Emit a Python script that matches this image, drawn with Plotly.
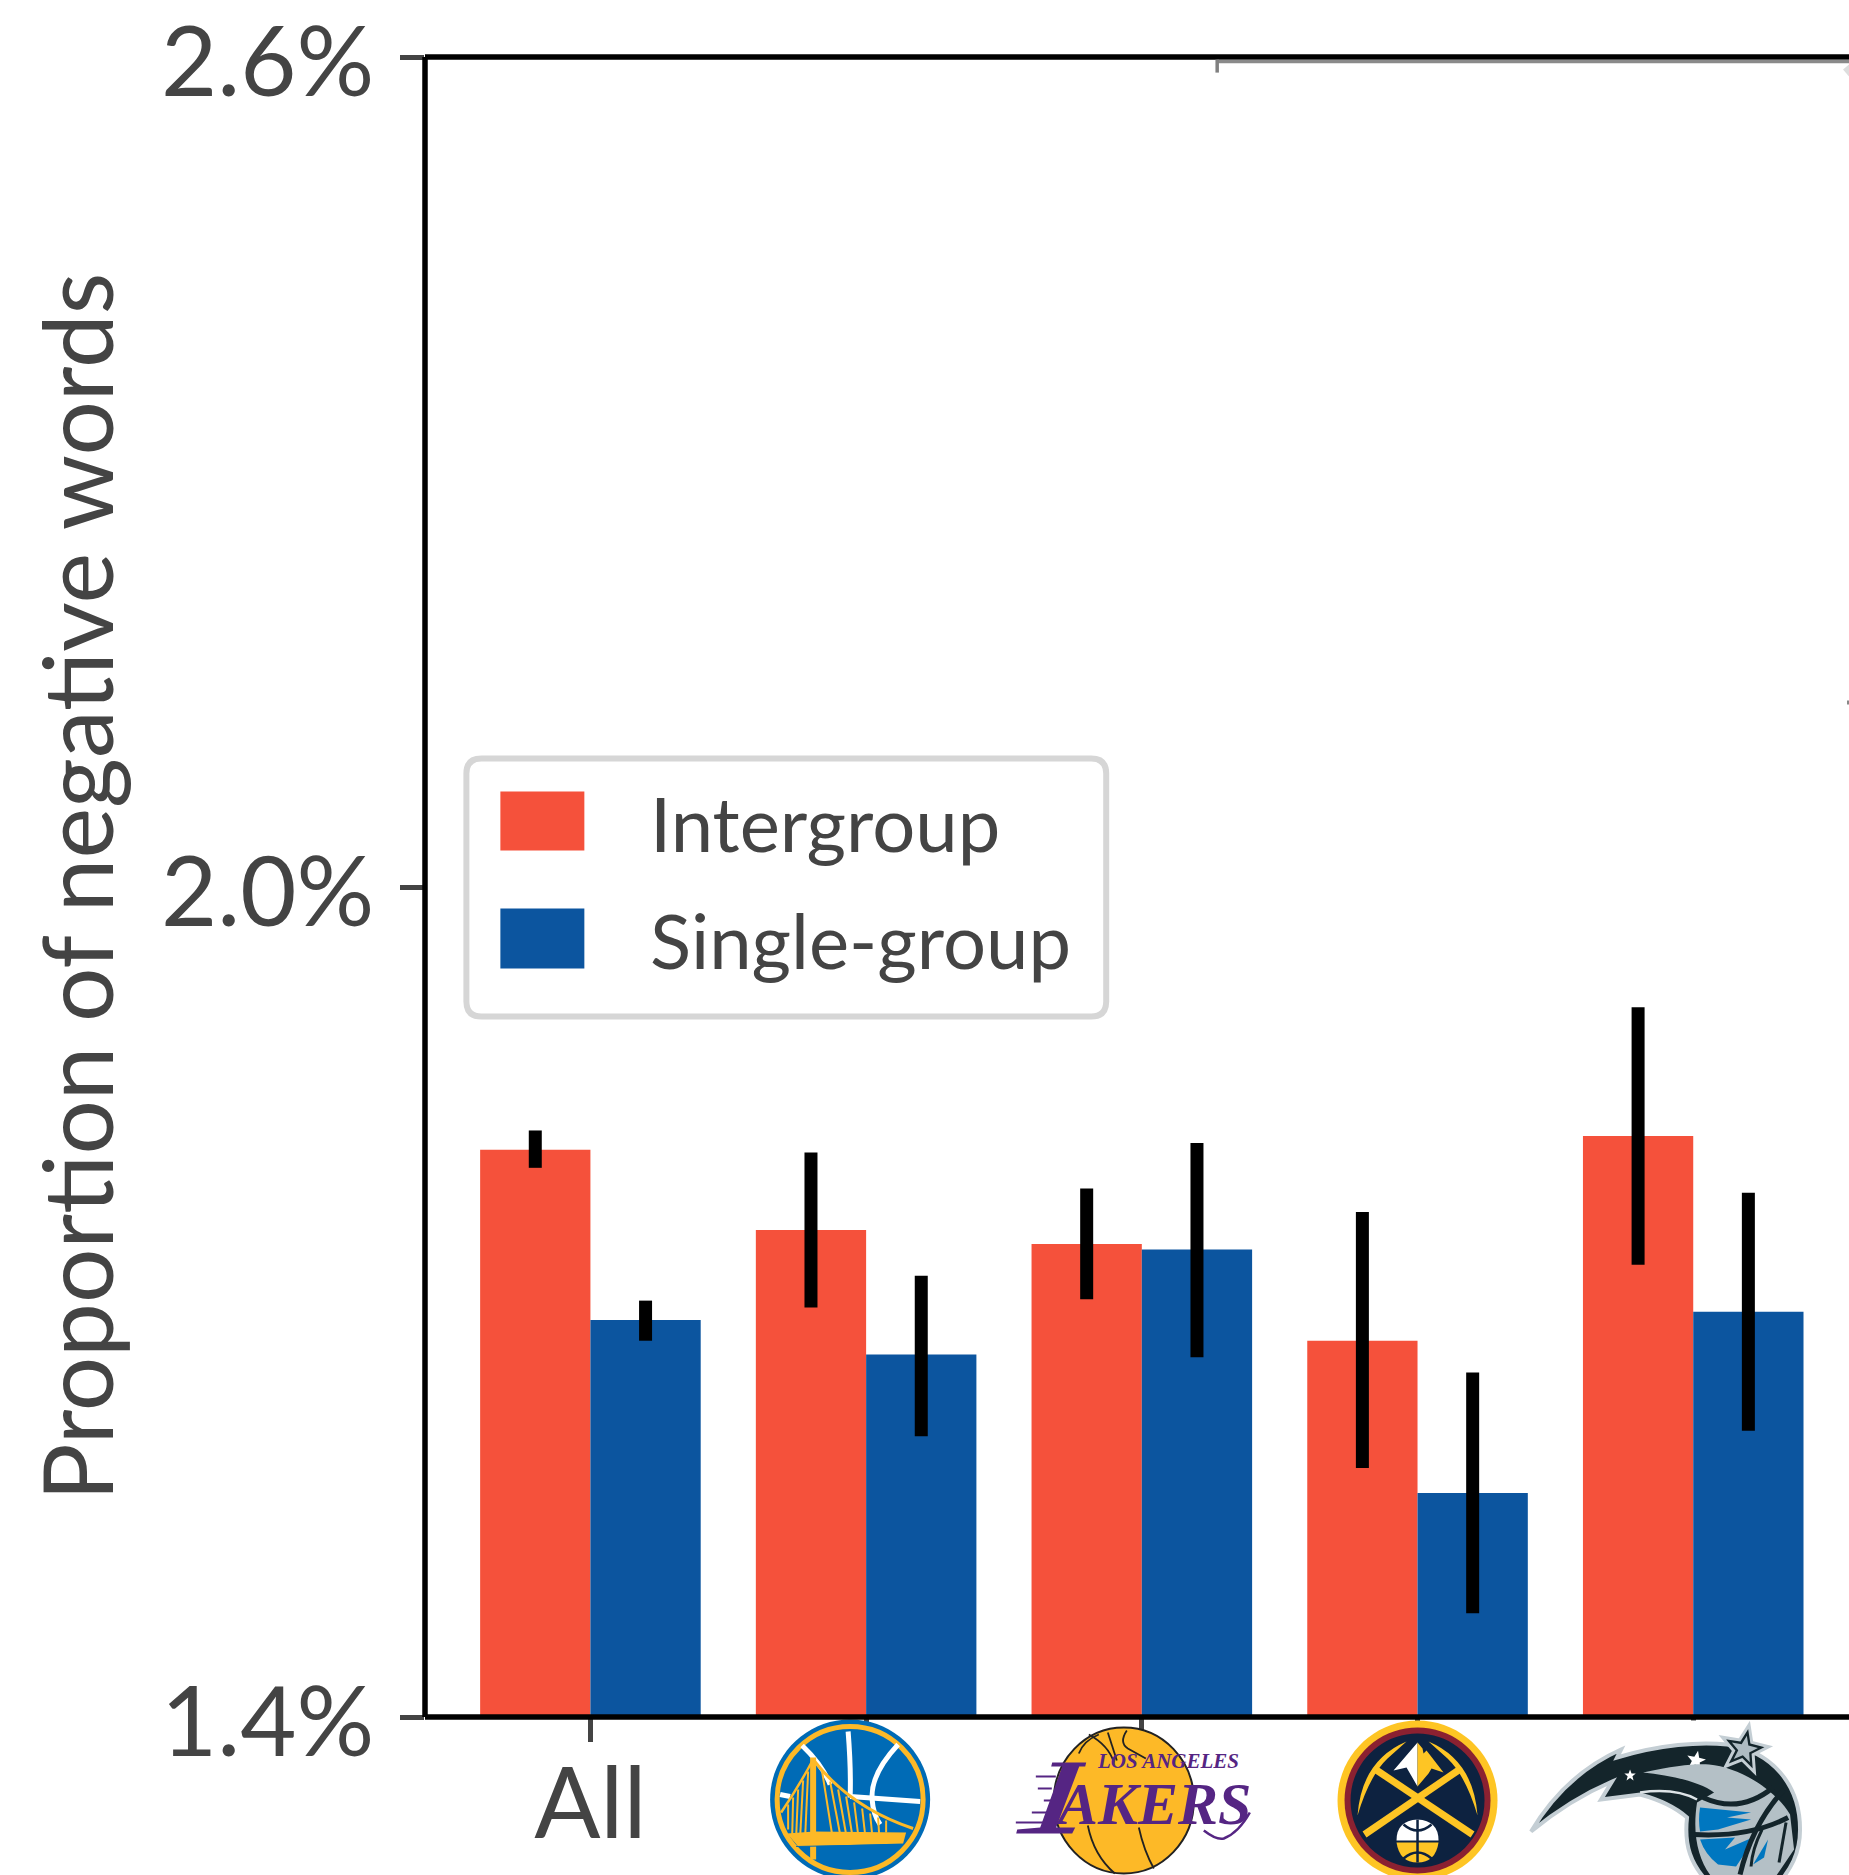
import math
import plotly.graph_objects as go

# ---------- data ----------
categories = ["All", "Warriors", "Lakers", "Nuggets", "Magic"]
tick_labels = ["All", "", "", "", ""]
intergroup = [1.810, 1.752, 1.742, 1.672, 1.820]
intergroup_low = [1.797, 1.696, 1.702, 1.580, 1.727]
intergroup_high = [1.824, 1.808, 1.782, 1.765, 1.913]
singlegroup = [1.687, 1.662, 1.738, 1.562, 1.693]
singlegroup_low = [1.672, 1.603, 1.660, 1.475, 1.607]
singlegroup_high = [1.701, 1.719, 1.815, 1.649, 1.779]
y_ticks = [1.4, 2.0, 2.6]
y_tick_labels = ["1.4%", "2.0%", "2.6%"]
series_names = ["Intergroup", "Single-group"]
y_title = "Proportion of negative words"

# ---------- style ----------
W, H = 1849, 1875
L, T, B = 424.6, 57.4, 1717.5
FONT = "Lato"
TXT = "#444444"
RED, BLUE = "#F5513B", "#0C559F"
RANGE_LEN = 5.165


def py(Y):
    return (B - Y) / (B - T)


def px(X):
    return (X - L) / (W - L)


def tick_x(idx):
    return L + (idx + 0.6) * (W - L) / RANGE_LEN


def err(vals, low, high):
    return dict(type="data", symmetric=False,
                array=[h - v for h, v in zip(high, vals)],
                arrayminus=[v - l for v, l in zip(vals, low)],
                color="black", thickness=13, width=0)


fig = go.Figure()
fig.add_bar(x=list(range(5)), y=intergroup, name=series_names[0], marker=dict(color=RED, line_width=0),
            error_y=err(intergroup, intergroup_low, intergroup_high), hovertext=categories)
fig.add_bar(x=list(range(5)), y=singlegroup, name=series_names[1], marker=dict(color=BLUE, line_width=0),
            error_y=err(singlegroup, singlegroup_low, singlegroup_high), hovertext=categories)

shapes, annos = [], []


def flip(path, dx, dy):
    out, i = [], 0
    for tok in path.replace(",", " ").split():
        if tok.isalpha():
            out.append(tok)
            if tok.upper() != "Z":
                i = 0
        else:
            v = float(tok)
            out.append(f"{v + dx:.2f}" if i % 2 == 0 else f"{-(v + dy):.2f}")
            i += 1
    return " ".join(out)


def ell(cx, cy, rx, ry):
    k = 0.5523
    return (f"M {cx-rx} {cy} C {cx-rx} {cy-k*ry} {cx-k*rx} {cy-ry} {cx} {cy-ry} "
            f"C {cx+k*rx} {cy-ry} {cx+rx} {cy-k*ry} {cx+rx} {cy} "
            f"C {cx+rx} {cy+k*ry} {cx+k*rx} {cy+ry} {cx} {cy+ry} "
            f"C {cx-k*rx} {cy+ry} {cx-rx} {cy+k*ry} {cx-rx} {cy} Z")


def star(cx, cy, r, rot=0.0):
    pts = []
    for i in range(10):
        a = rot + math.pi * i / 5 - math.pi / 2
        rr = r if i % 2 == 0 else r * 0.42
        pts.append((cx + rr * math.cos(a), cy + rr * math.sin(a)))
    return "M " + " L ".join(f"{x:.1f} {y:.1f}" for x, y in pts) + " Z"


def logo(idx, cy, dx, path, fill=None, line=None, lw=0):
    shapes.append(dict(type="path", xref="paper", yref="paper", layer="above",
                       xsizemode="pixel", ysizemode="pixel",
                       xanchor=px(tick_x(idx)), yanchor=py(cy),
                       path=flip(path, dx, 0),
                       fillcolor=fill if fill else "rgba(0,0,0,0)",
                       line=dict(color=line if line else "rgba(0,0,0,0)", width=lw)))


def abs_path(s, ox, oy):
    out, i = [], 0
    for tok in s.replace(",", " ").split():
        if tok.isalpha():
            out.append(tok)
            i = 0
        else:
            out.append(str(float(tok) - (ox if i % 2 == 0 else oy)))
            i += 1
    return " ".join(out)


# ---------- Warriors ----------
cyw, dxw = 1800, -16
GS_B, GS_G = "#006BB6", "#FDB927"
logo(1, cyw, dxw, ell(0, 0, 80, 80), fill=GS_B)
logo(1, cyw, dxw, ell(0, 0, 73, 73), fill=GS_B, line=GS_G, lw=5)
for p in ["M -2 -68 Q 1 -30 0 -2", "M 0 -3 L 70 2", "M 48 -55 Q 20 -25 22 0 Q 23 15 30 25",
          "M -48 -54 Q -28 -35 -20 -15", "M -70 -5 L -60 -3"]:
    logo(1, cyw, dxw, p, line="white", lw=5)
logo(1, cyw, dxw, "M -37 -40 Q -52 -12 -69 13", line=GS_G, lw=2.5)
logo(1, cyw, dxw, "M -37 -40 Q 0 8 63 29", line=GS_G, lw=3)
for p in [(-28, -28, -18, 35), (-20, -18, -10, 35), (-12, -10, -4, 35), (-4, -3, 2, 35), (4, 3, 8, 35),
          (12, 9, 15, 35), (20, 14, 22, 35), (28, 18, 29, 35), (36, 21, 36, 33),
          (-42, -28, -45, 38), (-47, -19, -50, 38), (-52, -10, -54, 38), (-57, -2, -58, 38), (-62, 5, -62, 30)]:
    logo(1, cyw, dxw, f"M {p[0]} {p[1]} L {p[2]} {p[3]}", line=GS_G, lw=2)
logo(1, cyw, dxw, "M -63 34 L -36 32 L 56 33 L 53 44 L -52 47 Z", fill=GS_G)
logo(1, cyw, dxw, "M -40 -42 L -34 -42 L -34 60 L -40 60 Z", fill=GS_G)
logo(1, cyw, dxw, "M -54 47 L 50 45", line=GS_B, lw=1)

# ---------- Lakers ----------
cyl, dxl = 1801, -18
LA_P, LA_G = "#552583", "#FDB927"
logo(2, cyl, dxl, ell(0, 0, 70, 73), fill=LA_G, line="#222222", lw=2)
for p in ["M -16 -68 L -7 -40", "M -45 -47 Q -40 -60 -25 -66", "M 3 -70 Q -5 -58 4 -52 L 22 -42",
          "M -36 25 Q -30 55 -9 73", "M 15 27 Q 20 50 30 68", "M -35 -66 Q -15 -55 -10 -38"]:
    logo(2, cyl, dxl, p, line="#222222", lw=1.8)
for (x0, x1, y) in [(-88, -68, -24), (-86, -72, -12), (-80, -70, 0), (-92, -74, 12), (-108, -80, 22), (-104, -78, 31)]:
    logo(2, cyl, dxl, f"M {x0} {y} L {x1} {y}", line=LA_P, lw=2)
logo(2, cyl, dxl, "M 80 30 Q 93 40 100 38 Q 115 32 126 12", line=LA_P, lw=2.5)
# the tall italic L of the wordmark
logo(2, 1800, 0, abs_path("M 1052 1763 L 1086 1763 L 1085 1767 L 1079 1767 L 1056 1828 L 1075 1828 L 1072 1834 "
                          "L 1016 1834 L 1017 1830 L 1040 1828 L 1062 1767 L 1051 1767 Z", tick_x(2), 1800), fill=LA_P)


def logo_text(idx, X, Y, text, size):
    annos.append(dict(x=idx, xref="x", y=py(Y), yref="paper", xshift=X - tick_x(idx),
                      text=f"<b><i>{text}</i></b>", showarrow=False, xanchor="center", yanchor="middle",
                      font=dict(family="Liberation Serif", size=size, color=LA_P)))


logo_text(2, 1168, 1762, "LOS ANGELES", 21)
logo_text(2, 1152, 1805, "AKERS", 60)

# ---------- Nuggets ----------
cyn, dxn = 1801, 0
NG_G, NG_M, NG_N = "#FEC524", "#8B2131", "#0D2240"
logo(3, cyn, dxn, ell(0, 0, 80, 80), fill=NG_G)
logo(3, cyn, dxn, ell(0, 0, 73, 73), fill=NG_M)
logo(3, cyn, dxn, ell(0, 0, 67, 67), fill=NG_N)
logo(3, cyn, dxn, "M 0 -58 L -24 -30 L -11 -33 L 0 -14 Z", fill="white")
logo(3, cyn, dxn, "M 0 -58 L 5 -52 L 6 -47 L 9 -50 L 26 -28 L 14 -32 L 11 -27 L 0 -14 Z", fill=NG_G)
logo(3, cyn, dxn, "M -53 34 L 42 -31", line=NG_G, lw=7)
logo(3, cyn, dxn, "M -42 -31 L 55 34", line=NG_G, lw=7)
logo(3, cyn, dxn, "M -11 -59 Q -56 -40 -60 15 Q -48 -25 -30 -42 Z", fill=NG_G)
logo(3, cyn, dxn, "M 11 -59 Q 56 -40 60 15 Q 48 -25 30 -42 Z", fill=NG_G)
logo(3, cyn, dxn, "M -21 40 Q -21 20 0 19 Q 21 20 21 40 Z", fill="white")
logo(3, cyn, dxn, "M -21 42 L 21 42 Q 18 62 0 62 Q -18 62 -21 42 Z", fill=NG_G)
logo(3, cyn, dxn, "M 0 19 L 0 62", line=NG_N, lw=2.5)
logo(3, cyn, dxn, "M -14 24 Q 0 36 14 24", line=NG_N, lw=2.5)
logo(3, cyn, dxn, "M -14 58 Q 0 46 14 58", line=NG_N, lw=2.5)

# ---------- Magic ----------
ox, oy = tick_x(4), 1800
MG_K, MG_S, MG_L = "#14252B", "#C4CED4", "#0077C0"


def mg(s, **kw):
    logo(4, oy, 0, abs_path(s, ox, oy), **kw)


# white backing of the logo picture hides the axis tick
mg(f"M {ox-6} 1721 L {ox+6} 1721 L {ox+6} 1745 L {ox-6} 1745 Z", fill="white")
tail = ("M 1531 1832 Q 1565 1775 1621 1750 L 1617 1758 C 1660 1745 1700 1742 1727 1745 "
        "C 1772 1752 1800 1785 1800 1830 C 1800 1855 1790 1870 1778 1885 L 1710 1885 "
        "C 1690 1865 1684 1845 1687 1818 Q 1670 1803 1640 1795 L 1601 1800 L 1612 1782 Q 1570 1800 1531 1832 Z")
mg(tail, fill=MG_K, line=MG_S, lw=4)
mg(star(1744, 1750, 25, 0.2), fill=MG_K, line=MG_S, lw=3)
mg(star(1744, 1750, 14, 0.2), fill="#AEBBC2")
mg(star(1696, 1761, 10, 0.2), fill="white")
mg(star(1630, 1776, 6, 0.0), fill="white")
mg("M 1643 1773 C 1675 1766 1695 1764 1709 1765 C 1740 1768 1775 1790 1790 1815 L 1794 1850 L 1775 1878 "
   "L 1712 1878 C 1698 1860 1692 1835 1697 1803 L 1714 1793 C 1700 1782 1670 1776 1643 1773 Z", fill="#B4C0C6")
mg("M 1700 1808 L 1751 1813 L 1727 1818 L 1751 1820 L 1718 1830 L 1700 1832 Q 1698 1820 1700 1808 Z", fill=MG_L)
mg("M 1700 1840 L 1735 1838 L 1725 1850 L 1755 1837 L 1744 1855 L 1736 1867 L 1718 1865 Q 1705 1855 1700 1840 Z",
   fill=MG_L)
mg("M 1753 1865 L 1768 1840 L 1764 1858 Z", fill=MG_L)
mg("M 1703 1798 Q 1740 1815 1773 1788", line=MG_K, lw=5)
mg("M 1694 1835 Q 1750 1838 1788 1818", line=MG_K, lw=5)
mg("M 1784 1790 Q 1752 1825 1740 1875", line=MG_K, lw=5)
mg("M 1786 1823 L 1779 1863", line=MG_K, lw=3)
mg("M 1762 1830 Q 1752 1850 1751 1867", line=MG_K, lw=3)
mg("M 1640 1793 Q 1675 1788 1697 1800", line="#DDE3E6", lw=2.5)

# ---------- legend box ----------
lx0, lx1, ly0, ly1, rr = 466, 1106, 759, 1017, 15
shapes.append(dict(type="path", xref="paper", yref="paper", layer="above", line=dict(color="#D6D6D6", width=6),
                   fillcolor="white",
                   path=(f"M {px(lx0+rr)} {py(ly0)} L {px(lx1-rr)} {py(ly0)} Q {px(lx1)} {py(ly0)} {px(lx1)} {py(ly0+rr)} "
                         f"L {px(lx1)} {py(ly1-rr)} Q {px(lx1)} {py(ly1)} {px(lx1-rr)} {py(ly1)} "
                         f"L {px(lx0+rr)} {py(ly1)} Q {px(lx0)} {py(ly1)} {px(lx0)} {py(ly1-rr)} "
                         f"L {px(lx0)} {py(ly0+rr)} Q {px(lx0)} {py(ly0)} {px(lx0+rr)} {py(ly0)} Z")))
for name, color, y0, y1 in [(series_names[0], RED, 792, 851), (series_names[1], BLUE, 909, 969)]:
    shapes.append(dict(type="rect", xref="paper", yref="paper", layer="above", x0=px(500), x1=px(584),
                       y0=py(y0), y1=py(y1), fillcolor=color, line_width=0))
    annos.append(dict(xref="paper", yref="paper", x=px(648), y=py((y0 + y1) / 2 + 1), text=name, showarrow=False,
                      xanchor="left", yanchor="middle", font=dict(family=FONT, size=76, color=TXT)))

# ---------- y tick labels, set slightly below their ticks as in the reference ----------
for v, lab in zip(y_ticks, y_tick_labels):
    annos.append(dict(xref="paper", yref="y", x=px(376), y=v, yshift=-1, text=lab, showarrow=False,
                      xanchor="right", yanchor="middle", font=dict(family=FONT, size=97, color=TXT)))

annos.append(dict(xref="paper", yref="paper", x=px(75), y=py(887), text=y_title, textangle=-90,
                  showarrow=False, xanchor="center", yanchor="middle", font=dict(family=FONT, size=96, color=TXT)))

# ---------- spines and the grey remnant of a clipped inset ----------
for x0, x1, y0, y1 in [(0, 1, 1, 1), (0, 1, 0, 0), (0, 0, 0, 1)]:
    shapes.append(dict(type="line", xref="paper", yref="paper", layer="above", x0=x0, x1=x1, y0=y0, y1=y1,
                       line=dict(color="black", width=5.5)))
shapes.append(dict(type="line", xref="paper", yref="paper", layer="above", x0=px(1217), x1=1, y0=py(62), y1=py(62),
                   line=dict(color="#8A8A8A", width=3.5)))
shapes.append(dict(type="line", xref="paper", yref="paper", layer="above", x0=px(1217), x1=px(1217), y0=py(60), y1=py(73),
                   line=dict(color="#808080", width=3.5)))
shapes.append(dict(type="path", xref="paper", yref="paper", layer="above", fillcolor="#DDDDDD", line_width=0,
                   path=f"M {px(1849)} {py(65)} L {px(1843)} {py(70)} L {px(1849)} {py(77)} Z"))
shapes.append(dict(type="rect", xref="paper", yref="paper", layer="above", x0=px(1847), x1=1, y0=py(701), y1=py(705),
                   fillcolor="#888888", line_width=0))

fig.update_layout(
    width=W, height=H, barmode="group", bargap=0.2, bargroupgap=0, showlegend=False,
    margin=dict(l=L, r=0, t=T, b=H - B, autoexpand=False),
    paper_bgcolor="white", plot_bgcolor="white", shapes=shapes, annotations=annos,
    font=dict(family=FONT, color=TXT),
    xaxis=dict(range=[-0.6, -0.6 + RANGE_LEN], tickmode="array", tickvals=list(range(5)), ticktext=tick_labels,
               ticks="outside", ticklen=24, tickwidth=5, tickcolor=TXT, showgrid=False, zeroline=False,
               showline=False, automargin=False, ticklabeloverflow="allow",
               tickfont=dict(family=FONT, size=98, color=TXT), ticklabelstandoff=-22),
    yaxis=dict(range=[1.4, 2.6], tickmode="array", tickvals=y_ticks, ticktext=["", "", ""],
               ticks="outside", ticklen=24, tickwidth=5, tickcolor=TXT, showgrid=False, zeroline=False,
               showline=False, automargin=False),
)

fig.write_html("out.html", config=dict(displayModeBar=False),
               post_script="document.body.style.margin='0';document.documentElement.style.overflow='hidden';")
